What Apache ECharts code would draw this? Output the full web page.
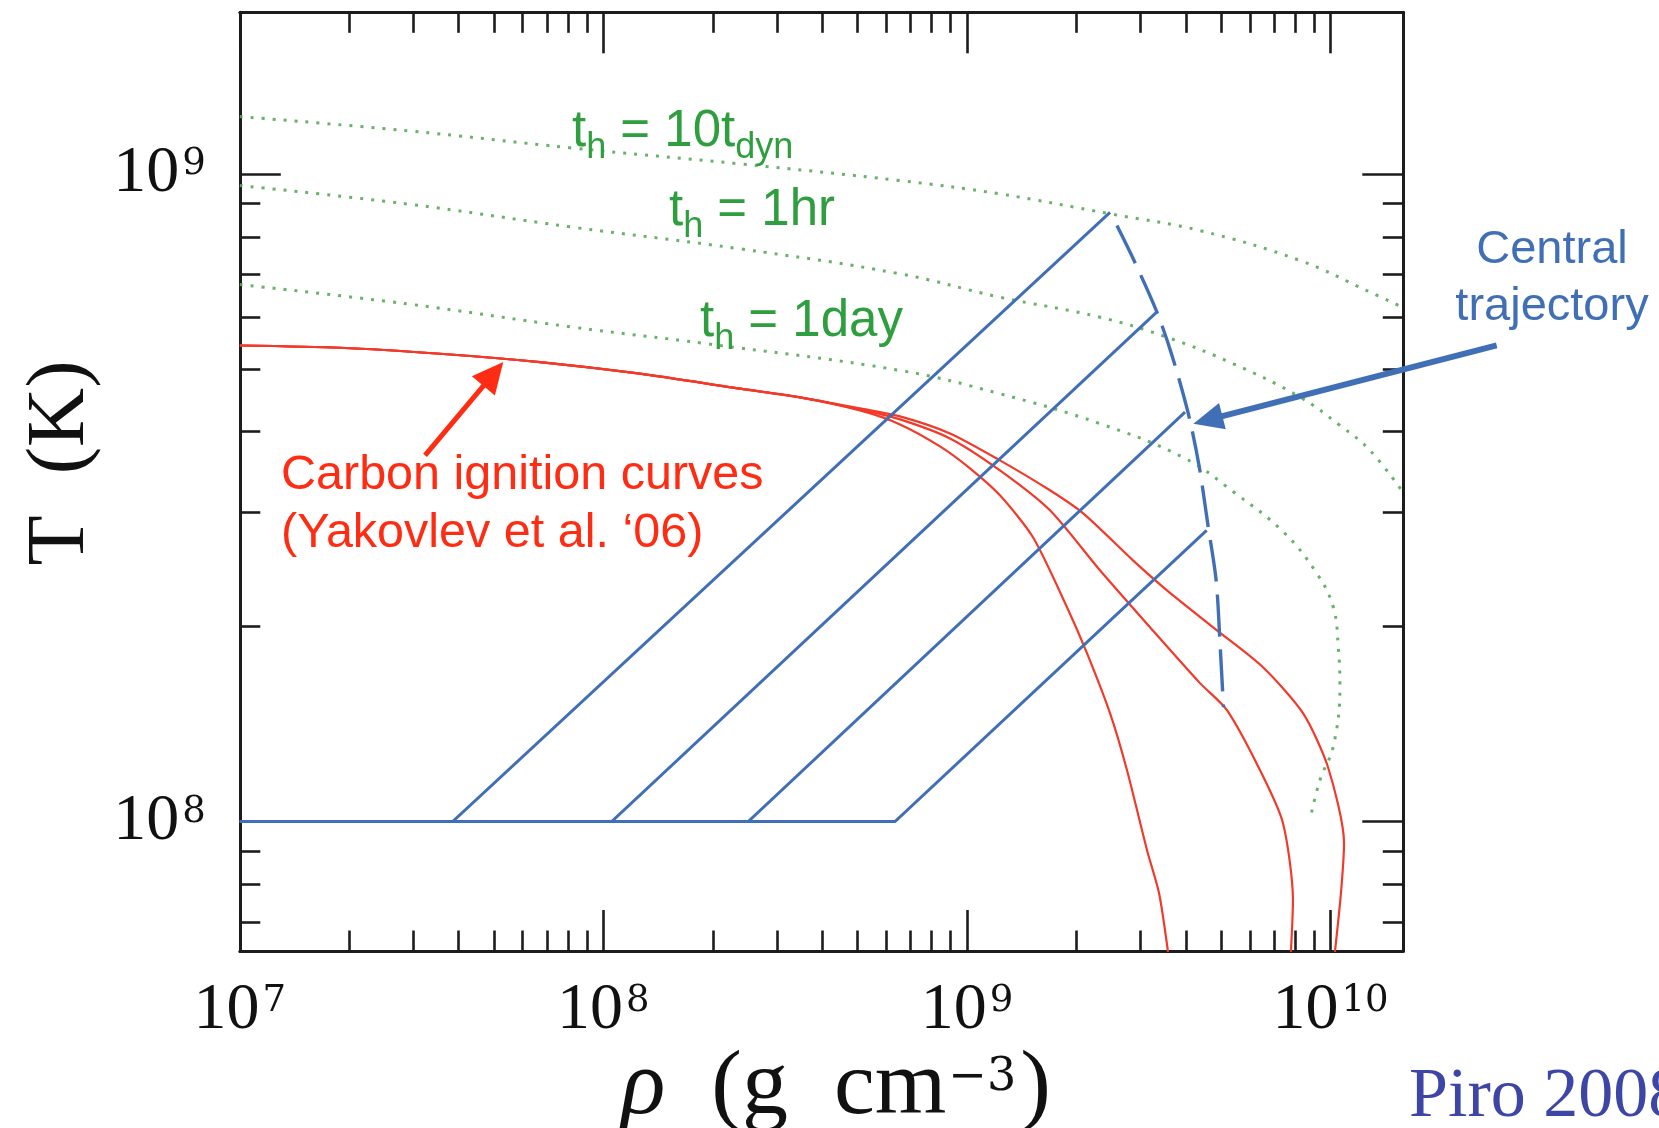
<!DOCTYPE html>
<html>
<head>
<meta charset="utf-8">
<script src="https://cdn.jsdelivr.net/npm/echarts@6/dist/echarts.min.js"></script>
<style>
  html, body { margin: 0; padding: 0; background: #fff; }
  #chart { width: 1659px; height: 1128px; }
</style>
</head>
<body>
<div id="chart"></div>
<script>
// ---------------- data (density rho in g cm^-3, temperature T in K) ----------------

// plotted extent of both log axes
const rhoRange = [1e7, 1.585e10];
const tempRange = [6.31e7, 1.778e9];

// decade exponents carrying labelled ticks
const rhoDecades = [7, 8, 9, 10];
const tempDecades = [8, 9];

// four compression histories: flat at T = 1e8 K, then a straight rise to the peak
const trajStartRho = 1e7;
const trajBaseT = 1e8;
const trajBreakRho = [3.85e7, 1.054e8, 2.503e8, 6.34e8];
const trajPeakRho = [2.474e9, 3.325e9, 3.978e9, 4.562e9];
const trajPeakT = [8.73e8, 6.12e8, 4.29e8, 2.817e8];

// central trajectory through the peaks (dashed)
const centralRho = [2.585e9, 2.897e9, 3.332e9, 3.663e9, 4.054e9, 4.346e9, 4.600e9, 4.845e9, 4.965e9, 5.075e9];
const centralT = [8.327e8, 7.302e8, 6.114e8, 5.248e8, 4.284e8, 3.550e8, 2.869e8, 2.358e8, 1.886e8, 1.502e8];

// carbon ignition curves: shared low-density branch, then three separate branches
const ignitionSharedRho = [1.0e7, 1.887e7, 3.553e7, 6.693e7, 1.261e8, 2.376e8, 3.473e8];
const ignitionSharedT = [5.436e8, 5.393e8, 5.279e8, 5.124e8, 4.917e8, 4.662e8, 4.521e8];
const ignitionRhoA = [5.079e8, 6.542e8, 8.428e8, 1.019e9, 1.232e9, 1.519e9, 1.884e9, 2.138e9, 2.474e9, 2.754e9, 3.126e9, 3.373e9, 3.572e9];
const ignitionTA = [4.315e8, 4.106e8, 3.797e8, 3.512e8, 3.191e8, 2.748e8, 2.143e8, 1.820e8, 1.470e8, 1.201e8, 9.04e7, 7.76e7, 6.29e7];
const ignitionRhoB = [5.079e8, 6.542e8, 8.98e8, 1.232e9, 1.691e9, 2.321e9, 3.186e9, 4.373e9, 5.188e9, 6.393e9, 7.396e9, 7.880e9, 7.780e9];
const ignitionTB = [4.331e8, 4.180e8, 3.906e8, 3.486e8, 3.025e8, 2.444e8, 1.996e8, 1.636e8, 1.486e8, 1.201e8, 9.95e7, 7.57e7, 6.29e7];
const ignitionRhoC = [5.079e8, 6.542e8, 8.98e8, 1.232e9, 1.691e9, 2.084e9, 2.861e9, 3.548e9, 4.870e9, 6.518e9, 8.398e9, 9.835e9, 1.089e10, 1.068e10, 1.028e10];
const ignitionTC = [4.346e8, 4.225e8, 3.976e8, 3.613e8, 3.248e8, 2.994e8, 2.532e8, 2.276e8, 1.974e8, 1.731e8, 1.470e8, 1.214e8, 9.26e7, 7.76e7, 6.29e7];

// heating-time contours (dotted)
const heat10dynRho = [1e7, 2.877e7, 8.249e7, 2.376e8, 6.542e8, 1.232e9, 2.474e9, 4.373e9, 8.239e9, 1.257e10, 1.582e10];
const heat10dynT = [1.227e9, 1.167e9, 1.097e9, 1.037e9, 9.772e8, 9.32e8, 8.682e8, 8.18e8, 7.355e8, 6.61e8, 6.223e8];
const heat1hrRho = [1e7, 2.877e7, 8.264e7, 2.376e8, 6.542e8, 1.232e9, 2.322e9, 3.541e9, 5.4e9, 8.239e9, 1.061e10, 1.283e10, 1.582e10];
const heat1hrT = [9.601e8, 8.995e8, 8.277e8, 7.667e8, 7.015e8, 6.455e8, 6.012e8, 5.6e8, 5.094e8, 4.525e8, 4.092e8, 3.744e8, 3.225e8];
const heat1dayRho = [1e7, 2.877e7, 8.264e7, 1.923e8, 6.542e8, 1.232e9, 2.322e9, 3.978e9, 5.4e9, 7.411e9, 9.158e9, 1.017e10, 1.05e10, 1.061e10, 1.017e10, 9.35e9, 8.775e9];
const heat1dayT = [6.752e8, 6.305e8, 5.801e8, 5.47e8, 4.975e8, 4.579e8, 4.117e8, 3.639e8, 3.231e8, 2.802e8, 2.418e8, 2.145e8, 1.862e8, 1.614e8, 1.305e8, 1.159e8, 1.005e8];

// annotation arrows (tail, head) in data space
const carbonArrowFrom = [3.232e7, 3.678e8];
const carbonArrowTo = [5.305e7, 5.124e8];
const centralArrowFrom = [2.863e10, 5.437e8];
const centralArrowTo = [4.194e9, 4.117e8];

// ---------------- styling ----------------
const SERIF = '"Liberation Serif", "Times New Roman", serif';
const SUPFONT = '"DejaVu Serif", serif';
const SANS = '"Liberation Sans", Arial, sans-serif';
const INK = '#1c1c1c';
const BLUE = '#416fb6';
const RED_LINE = '#f23a2a';
const RED_TEXT = '#ff2c14';
const GREEN_TEXT = '#2e9e3e';
const GREEN_DOT = '#5aa85a';

const LOG = Math.log10;
const toPairs = (rhos, temps) => rhos.map((r, i) => [LOG(r), LOG(temps[i])]);

// minor ticks at 2..9 x 10^k inside the plotted range
function minorTicks(range) {
  const lo = LOG(range[0]), hi = LOG(range[1]);
  const out = [];
  for (let k = Math.floor(lo); k <= Math.ceil(hi); k++) {
    for (let m = 2; m <= 9; m++) {
      const v = k + LOG(m);
      if (v > lo + 1e-6 && v < hi - 1e-6) out.push(v);
    }
  }
  return out;
}

const X_MIN = LOG(rhoRange[0]), X_MAX = LOG(rhoRange[1]);
const Y_MIN = LOG(tempRange[0]), Y_MAX = LOG(tempRange[1]);

const labelRich = {
  b: { fontFamily: SERIF, fontSize: 66, lineHeight: 66, color: '#111', verticalAlign: 'top' },
  s: { fontFamily: SUPFONT, fontSize: 37, lineHeight: 37, color: '#111', verticalAlign: 'top', padding: [5, 0, 0, 3] }
};
const powerLabel = v => '{b|10}{s|' + Math.round(v) + '}';

function axis(kind, grid, position, ticks, tickLen, labels, margin) {
  const a = {
    gridIndex: grid,
    type: 'value',
    position: position,
    min: kind === 'x' ? X_MIN : Y_MIN,
    max: kind === 'x' ? X_MAX : Y_MAX,
    axisLine: { show: grid === 0, onZero: false, lineStyle: { color: INK, width: 3 } },
    axisTick: { show: true, inside: true, length: tickLen, customValues: ticks,
                lineStyle: { color: INK, width: 2.6 } },
    axisLabel: { show: false },
    splitLine: { show: false }
  };
  if (labels) {
    a.axisLabel = { show: true, margin: margin, customValues: labels, formatter: powerLabel, rich: labelRich };
  }
  return a;
}

const xMinor = minorTicks(rhoRange);
const yMinor = minorTicks(tempRange);

const gridRect = { left: 239.8, right: 255.7, top: 12.3, bottom: 177 };

const series = [];
function addLine(data, style, extra) {
  series.push(Object.assign({
    type: 'line', xAxisIndex: 0, yAxisIndex: 0, data: data,
    showSymbol: false, symbol: 'none', silent: true, animation: false,
    lineStyle: style, z: 2
  }, extra || {}));
}

// heating-time contours
[[heat10dynRho, heat10dynT], [heat1hrRho, heat1hrT], [heat1dayRho, heat1dayT]].forEach(([r, t]) => {
  addLine(toPairs(r, t), { color: GREEN_DOT, width: 3, type: [3, 8], cap: 'butt', opacity: 0.9 }, { smooth: 0.4, z: 1 });
});

// ignition curves
[[ignitionRhoA, ignitionTA], [ignitionRhoB, ignitionTB], [ignitionRhoC, ignitionTC]].forEach(([r, t]) => {
  addLine(toPairs(ignitionSharedRho.concat(r), ignitionSharedT.concat(t)),
          { color: RED_LINE, width: 2.2 }, { smooth: 0.25, z: 2 });
});

// compression histories
trajBreakRho.forEach((br, i) => {
  addLine(toPairs([trajStartRho, br, trajPeakRho[i]], [trajBaseT, trajBaseT, trajPeakT[i]]),
          { color: BLUE, width: 3, join: 'miter' }, { z: 3 });
});

// central trajectory
addLine(toPairs(centralRho, centralT), { color: BLUE, width: 3.4, type: [42, 13], cap: 'butt' }, { smooth: 0.3, z: 3 });

const option = {
  animation: false,
  backgroundColor: '#ffffff',
  grid: [Object.assign({}, gridRect), Object.assign({}, gridRect)],
  xAxis: [
    axis('x', 0, 'bottom', rhoDecades, 41, rhoDecades, 27),
    axis('x', 0, 'top', rhoDecades, 41, null),
    axis('x', 1, 'bottom', xMinor, 20.5, null),
    axis('x', 1, 'top', xMinor, 20.5, null)
  ],
  yAxis: [
    axis('y', 0, 'left', tempDecades, 41, tempDecades, 34),
    axis('y', 0, 'right', tempDecades, 41, null),
    axis('y', 1, 'left', yMinor, 20.5, null),
    axis('y', 1, 'right', yMinor, 20.5, null)
  ],
  series: series
};

const chart = echarts.init(document.getElementById('chart'), null, { renderer: 'canvas' });
chart.setOption(option);

// ---------------- annotations ----------------
function toPx(p) { return chart.convertToPixel({ gridIndex: 0 }, [LOG(p[0]), LOG(p[1])]); }

function arrow(id, from, to, color, width, headLen, headWidth) {
  const p0 = toPx(from), p1 = toPx(to);
  const dx = p1[0] - p0[0], dy = p1[1] - p0[1];
  const len = Math.hypot(dx, dy);
  const ux = dx / len, uy = dy / len;
  const bx = p1[0] - ux * headLen, by = p1[1] - uy * headLen;
  const nx = -uy, ny = ux;
  return [
    { type: 'line', id: id + '-shaft', z: 10, silent: true,
      shape: { x1: p0[0], y1: p0[1], x2: bx + ux * 2, y2: by + uy * 2 },
      style: { stroke: color, lineWidth: width } },
    { type: 'polygon', id: id + '-head', z: 10, silent: true,
      shape: { points: [[p1[0], p1[1]],
                        [bx + nx * headWidth / 2, by + ny * headWidth / 2],
                        [bx - nx * headWidth / 2, by - ny * headWidth / 2]] },
      style: { fill: color } }
  ];
}

const greenRich = {
  m: { fill: GREEN_TEXT, fontFamily: SANS, fontSize: 51, lineHeight: 50, verticalAlign: 'top' },
  s: { fill: GREEN_TEXT, fontFamily: SANS, fontSize: 36, lineHeight: 36, verticalAlign: 'top', padding: [24, 0, 0, 0] }
};
function heatLabel(id, text, x, y) {
  return { type: 'text', id: id, x: x, y: y, z: 11, silent: true,
           style: { text: text, rich: greenRich, align: 'left', verticalAlign: 'top' } };
}

const graphics = [
  heatLabel('lbl-10dyn', '{m|t}{s|h}{m| = 10t}{s|dyn}', 572, 106.2),
  heatLabel('lbl-1hr', '{m|t}{s|h}{m| = 1hr}', 669, 185.2),
  heatLabel('lbl-1day', '{m|t}{s|h}{m| = 1day}', 700, 296.7),
  { type: 'text', id: 'lbl-carbon', x: 281, y: 446.4, z: 11, silent: true,
    style: { text: 'Carbon ignition curves\n(Yakovlev et al. \u201806)', fill: RED_TEXT,
             fontFamily: SANS, fontSize: 48.5, lineHeight: 58, align: 'left', verticalAlign: 'top' } },
  { type: 'text', id: 'lbl-central', x: 1552, y: 222.1, z: 11, silent: true,
    style: { text: 'Central\ntrajectory', fill: BLUE, fontFamily: SANS, fontSize: 47,
             lineHeight: 56.6, align: 'center', verticalAlign: 'top' } },
  { type: 'text', id: 'title-y', x: 61, y: 463, rotation: Math.PI / 2, z: 11, silent: true,
    style: { text: 'T  (K)', fill: '#111', fontFamily: SERIF, fontSize: 82,
             align: 'center', verticalAlign: 'middle' } },
  { type: 'text', id: 'title-x', x: 836, y: 1043, z: 11, silent: true,
    style: { text: '{r|\u03c1}{m|  (g  cm}{s|\u22123}{m|)}', align: 'center', verticalAlign: 'top',
             rich: {
               r: { fill: '#111', fontFamily: SERIF, fontStyle: 'italic', fontSize: 92, lineHeight: 92, verticalAlign: 'top' },
               m: { fill: '#111', fontFamily: SERIF, fontSize: 92, lineHeight: 92, verticalAlign: 'top' },
               s: { fill: '#111', fontFamily: SUPFONT, fontSize: 46, lineHeight: 46, verticalAlign: 'top', padding: [12, 4, 0, 2] }
             } } },
  { type: 'text', id: 'credit', x: 1409, y: 1062.5, z: 11, silent: true,
    style: { text: 'Piro 2008', fill: '#3d45a6', fontFamily: SERIF, fontSize: 70, lineHeight: 70,
             align: 'left', verticalAlign: 'top' } }
].concat(
  arrow('arrow-carbon', carbonArrowFrom, carbonArrowTo, RED_TEXT, 5, 31, 30),
  arrow('arrow-central', centralArrowFrom, centralArrowTo, BLUE, 6, 30, 27)
);

chart.setOption({ graphic: graphics });
</script>
</body>
</html>
